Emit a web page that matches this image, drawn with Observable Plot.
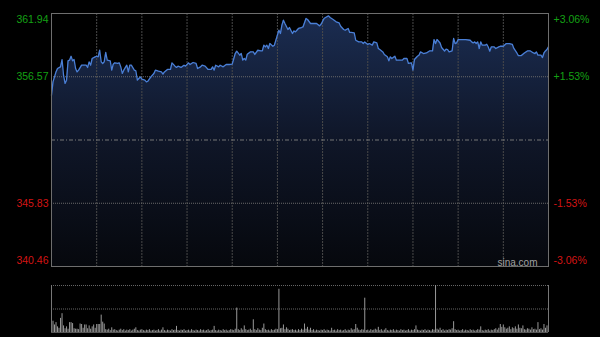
<!DOCTYPE html>
<html><head><meta charset="utf-8">
<script src="https://cdn.jsdelivr.net/npm/d3@7"></script>
<script src="https://cdn.jsdelivr.net/npm/@observablehq/plot@0.6"></script>
<style>
html,body{margin:0;padding:0;background:#000;}
#wrap{position:relative;width:600px;height:337px;overflow:hidden;background:#000;}
#main{position:absolute;left:0;top:0;}
#vol{position:absolute;left:0;top:280px;}
svg{display:block;}
</style></head><body><div id="wrap"><div id="main"></div><div id="vol"></div></div>
<script>
// Intraday session: minutes 0..330 (09:30-12:00, 13:00-16:00)
const preClose = 351.20;
const priceMin = 340.46, priceMax = 361.94;
const leftTicks = [361.94, 356.57, 345.83, 340.46];
const rightLabels = ["+3.06%", "+1.53%", "-1.53%", "-3.06%"];
const gridMinutes = [30, 60, 90, 120, 150, 180, 210, 240, 270, 300];

// [minute, price]
const priceSeries = [[0,355.00],[1,356.13],[3,356.98],[4,357.27],[6,357.41],[7,358.03],[8,356.70],[9,356.00],[10,356.28],[11,357.92],[12,357.98],[13,358.31],[14,357.92],[15,358.03],[16,357.27],[17,356.98],[18,357.13],[20,357.55],[21,357.55],[23,357.55],[24,357.36],[25,357.83],[26,357.55],[27,358.12],[29,358.26],[30,358.31],[31,358.26],[32,358.82],[33,357.83],[34,357.70],[35,357.83],[36,358.63],[37,357.98],[39,357.92],[40,357.13],[41,357.64],[42,357.75],[44,357.70],[45,357.75],[46,357.41],[47,356.85],[48,357.13],[50,357.55],[51,356.98],[52,357.55],[53,357.55],[55,357.13],[56,357.07],[57,356.28],[58,356.42],[59,356.56],[60,356.36],[62,356.28],[63,356.13],[64,356.19],[66,356.56],[68,356.85],[69,357.13],[71,357.04],[73,356.98],[74,356.79],[75,356.98],[77,357.19],[79,357.19],[80,357.75],[82,357.47],[83,357.36],[84,357.47],[86,357.36],[88,357.55],[89,357.47],[91,357.75],[92,357.61],[94,357.78],[96,357.70],[97,357.27],[99,357.41],[100,357.55],[102,357.47],[104,357.19],[106,357.19],[107,357.41],[108,357.13],[109,357.55],[111,357.41],[112,357.55],[114,357.41],[116,357.61],[118,357.61],[120,357.64],[122,358.54],[123,358.74],[125,358.40],[126,358.54],[127,357.98],[128,358.12],[129,357.98],[130,358.48],[132,358.68],[134,358.68],[135,358.46],[137,358.82],[139,358.76],[140,358.76],[141,359.25],[142,359.10],[143,359.25],[144,358.97],[145,359.39],[147,359.16],[148,359.25],[150,360.10],[151,360.52],[152,360.24],[153,360.95],[154,361.37],[155,361.09],[157,360.58],[158,360.75],[160,360.24],[161,360.46],[162,360.38],[164,360.67],[166,360.75],[167,360.80],[169,361.52],[170,361.43],[172,361.09],[174,361.09],[176,361.09],[178,360.89],[179,361.03],[181,361.52],[182,361.60],[184,361.74],[185,361.60],[187,361.43],[189,361.23],[191,361.14],[192,360.86],[194,360.58],[195,360.52],[197,360.67],[198,360.33],[199,360.33],[201,360.29],[202,359.67],[204,359.53],[206,359.53],[207,359.39],[208,359.53],[210,359.31],[211,359.39],[213,359.25],[214,359.53],[216,359.44],[217,358.97],[218,358.88],[220,358.68],[221,358.46],[223,358.26],[224,357.92],[225,358.26],[226,358.12],[228,358.31],[229,357.98],[231,357.98],[233,357.98],[234,358.12],[236,358.12],[237,357.70],[239,357.75],[240,357.13],[241,358.03],[243,358.31],[244,358.40],[245,358.68],[247,358.54],[249,358.59],[251,358.76],[253,358.76],[254,359.73],[255,359.39],[256,359.73],[258,359.44],[259,359.05],[261,358.76],[262,358.91],[263,358.88],[264,358.68],[266,358.76],[267,359.82],[268,359.39],[269,359.44],[270,359.73],[272,359.73],[275,359.73],[278,359.67],[279,359.53],[280,359.44],[281,359.53],[282,359.39],[283,359.53],[284,358.97],[285,359.53],[286,359.25],[288,359.25],[289,359.33],[290,359.10],[291,358.74],[292,359.10],[294,359.10],[295,358.97],[297,359.10],[298,359.16],[300,359.16],[302,359.39],[304,359.39],[306,359.31],[307,358.97],[309,358.59],[310,358.37],[312,358.37],[314,358.59],[316,358.76],[318,358.76],[320,358.59],[321,358.54],[322,358.68],[323,358.40],[325,358.40],[326,358.20],[327,358.59],[328,358.76],[329,358.88],[330,359.10]];

// volume per minute (relative units), index = minute
const volume = [
63,24,16,21,12,9,30,40,14,8,12,7,21,21,19,8,7,7,6,18,17,9,16,16,8,14,7,12,16,9,
17,17,17,37,22,18,6,5,7,4,10,5,6,4,3,5,7,4,6,3,5,4,6,3,5,7,10,4,3,5,
6,4,3,5,4,6,3,4,5,3,4,6,3,5,10,4,3,5,4,3,6,4,5,13,4,3,5,4,6,3,
4,5,3,6,4,3,5,4,3,6,4,5,3,4,6,3,4,5,13,4,3,5,4,3,6,4,5,3,4,6,
5,4,7,52,6,4,8,5,14,6,4,5,7,4,27,6,4,8,5,4,9,18,6,4,5,3,6,4,5,7,
6,92,8,9,16,6,10,7,4,5,6,4,5,3,6,4,7,5,18,7,11,5,9,4,6,3,5,4,3,5,
4,6,3,5,4,3,9,4,5,3,6,4,5,3,4,6,3,5,4,8,5,6,17,9,5,4,6,5,73,4,
5,3,6,4,5,7,5,11,4,6,3,5,8,4,3,5,4,6,3,5,4,3,6,4,5,3,4,6,3,5,
4,6,14,5,4,3,5,4,6,3,5,4,3,6,5,100,7,5,9,4,6,3,5,4,6,5,8,23,6,4,
5,3,4,6,3,5,4,3,6,4,5,3,4,6,5,12,4,3,5,4,6,3,5,4,6,8,5,9,17,11,
16,10,7,9,12,6,10,8,12,7,16,9,8,14,6,5,8,7,5,10,6,7,5,21,6,8,5,17,9,14,10
];
const volumeMax = 100;

const FONT = "'Liberation Sans', Arial, sans-serif";
const green = "#14a014", red = "#d41414";

function leftLabel(value, color, dy) {
  return Plot.text([value], {y: d => d, text: d => d.toFixed(2), frameAnchor: "left", textAnchor: "end",
    dx: -3, dy, fill: color, fontSize: 10.5, fontFamily: FONT});
}
function rightLabel(value, label, color, dy) {
  return Plot.text([value], {y: d => d, text: () => label, frameAnchor: "right", textAnchor: "start",
    dx: 5, dy, fill: color, fontSize: 10.5, fontFamily: FONT});
}
const dys = [6, 0, 0, -6];
const cols = [green, green, red, red];

const main = Plot.plot({
  width: 600, height: 270,
  marginTop: 13, marginBottom: 4, marginLeft: 51, marginRight: 52,
  style: {background: "transparent", overflow: "visible"},
  x: {domain: [0, 330], axis: null},
  y: {domain: [priceMin, priceMax], axis: null},
  marks: [
    Plot.areaY(priceSeries, {x: d => d[0], y1: () => priceMin, y2: d => d[1], fill: "url(#priceFill)"}),
    Plot.ruleX(gridMinutes, {stroke: "#4a4a4a", strokeDasharray: "2,1"}),
    Plot.ruleY([leftTicks[1], leftTicks[2]], {stroke: "#6a6a6a", strokeDasharray: "1,1"}),
    Plot.ruleY([preClose], {stroke: "#777", strokeDasharray: "4,2,1,2"}),
    Plot.lineY(priceSeries, {x: d => d[0], y: d => d[1], stroke: "#4a7fd6", strokeWidth: 1.3}),
    Plot.frame({stroke: "#6e6e6e"}),
    ...leftTicks.map((v, i) => leftLabel(v, cols[i], dys[i])),
    ...leftTicks.map((v, i) => rightLabel(v, rightLabels[i], cols[i], dys[i])),
    Plot.text(["sina.com"], {text: d => d, frameAnchor: "bottom-right", textAnchor: "end", lineAnchor: "bottom",
      dx: -11, dy: -1, fill: "#a0a0a0", fontSize: 10, fontFamily: FONT})
  ]
});
d3.select(main).insert("defs", ":first-child").html(
  '<linearGradient id="priceFill" gradientUnits="userSpaceOnUse" x1="0" y1="13" x2="0" y2="266">' +
  '<stop offset="0" stop-color="#1b2d52"/><stop offset="0.5" stop-color="#0f1628"/><stop offset="1" stop-color="#06080d"/></linearGradient>');
document.getElementById("main").appendChild(main);

const vol = Plot.plot({
  width: 600, height: 56,
  marginTop: 5, marginBottom: 4, marginLeft: 51, marginRight: 52,
  style: {background: "transparent", overflow: "visible"},
  x: {domain: [0, 330], axis: null},
  y: {domain: [0, volumeMax], axis: null},
  marks: [
    Plot.ruleY([volumeMax, volumeMax / 2], {stroke: "#666", strokeDasharray: "1,1"}),
    Plot.ruleX(volume, {x: (d, i) => i, y1: () => 0, y2: d => d, stroke: "#999"}),
    Plot.ruleY([0], {stroke: "#555"}),
    Plot.ruleX([0, 330], {stroke: "#777"})
  ]
});
document.getElementById("vol").appendChild(vol);
</script></body></html>
